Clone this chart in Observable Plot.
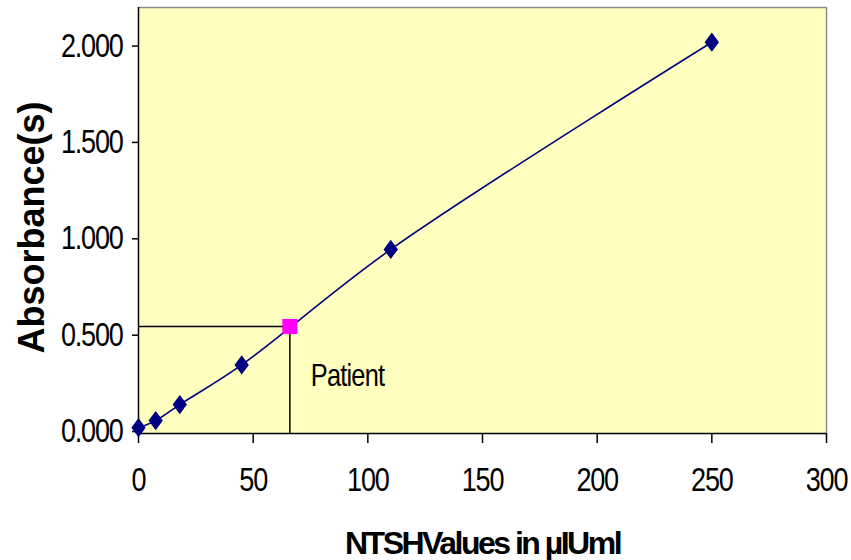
<!DOCTYPE html>
<html><head><meta charset="utf-8">
<script src="https://cdn.jsdelivr.net/npm/d3@7"></script>
<script src="https://cdn.jsdelivr.net/npm/@observablehq/plot@0.6"></script>
<style>
body{margin:0;background:#fff;}
#chart svg{display:block;}
</style></head><body><div id="chart"></div>
<script>
const standardConc = [0, 7.5, 18, 45, 110, 250];
const standardAbs = [0.02, 0.057, 0.14, 0.346, 0.945, 2.02];
const patientConc = [66];
const patientAbs = [0.545];
const patientLabel = "Patient";
const xTicks = [0, 50, 100, 150, 200, 250, 300];
const yTicks = [0, 0.5, 1, 1.5, 2];
const yTickLabels = ["0.000", "0.500", "1.000", "1.500", "2.000"];
const xDomain = [0, 300];
const yDomain = [-0.01, 2.2];
const xTitle = "NTSHValues in µIUml";
const yTitle = "Absorbance(s)";

const standards = standardConc.map((c, i) => ({conc: c, abs: standardAbs[i]}));
const patient = patientConc.map((c, i) => ({conc: c, abs: patientAbs[i], label: patientLabel}));

const diamond = {draw(ctx, size) {
  const r = Math.sqrt(size / Math.PI);
  const h = 1.6 * r, w = 1.2 * r;
  ctx.moveTo(0, -h); ctx.lineTo(w, 0); ctx.lineTo(0, h); ctx.lineTo(-w, 0); ctx.closePath();
}};

const sans = "'Liberation Sans',Arial,sans-serif";

const chart = Plot.plot({
  width: 851, height: 560,
  marginLeft: 138, marginRight: 25, marginTop: 7, marginBottom: 127,
  style: {fontFamily: sans, background: "#fff", color: "#000", overflow: "visible"},
  x: {domain: xDomain},
  y: {domain: yDomain},
  marks: [
    Plot.frame({fill: "#FFFFC0", stroke: "none"}),
    Plot.ruleX([xDomain[1]], {stroke: "#8c8c8c", strokeWidth: 1.5}),
    Plot.ruleY([yDomain[1]], {stroke: "#8c8c8c", strokeWidth: 1.5}),
    Plot.ruleX([xDomain[0]], {stroke: "#000", strokeWidth: 1.5}),
    Plot.ruleY([yDomain[0]], {stroke: "#000", strokeWidth: 1.5}),
    Plot.axisX({ticks: xTicks, tickSize: 10, tickPadding: 24, fontSize: 33, label: null, tickFormat: d => String(d), strokeWidth: 1.5}),
    Plot.axisY({ticks: yTicks, tickSize: 6, tickPadding: 10, fontSize: 33, label: null, tickFormat: d => yTickLabels[yTicks.indexOf(d)], strokeWidth: 1.5}),
    Plot.ruleY(patient, {y: "abs", x1: xDomain[0], x2: "conc", stroke: "#000", strokeWidth: 1.5}),
    Plot.ruleX(patient, {x: "conc", y1: yDomain[0], y2: "abs", stroke: "#000", strokeWidth: 1.5}),
    Plot.line(standards, {x: "conc", y: "abs", curve: "catmull-rom", stroke: "#000080", strokeWidth: 1.6}),
    Plot.dot(standards, {x: "conc", y: "abs", symbol: diamond, r: 6, fill: "#000080", stroke: null}),
    Plot.dot(patient, {x: "conc", y: "abs", symbol: "square", r: 8.5, fill: "#FF00FF", stroke: null}),
    Plot.text(patient, {x: "conc", y: "abs", text: "label", dx: 21, dy: 59, textAnchor: "start", lineAnchor: "bottom", fontSize: 31, fill: "#000"}),
    Plot.text([xTitle], {frameAnchor: "bottom", textAnchor: "middle", dy: 120, lineAnchor: "bottom", fontSize: 32, fontWeight: "bold", fill: "#000"}),
    Plot.text([yTitle], {frameAnchor: "left", textAnchor: "middle", dx: -95, dy: 7, rotate: -90, lineAnchor: "bottom", fontSize: 36, fontWeight: "bold", fill: "#000"})
  ]
});
document.getElementById("chart").append(chart);
const condensed = new Set([...xTicks.map(String), ...yTickLabels, patientLabel]);
d3.select(chart).selectAll("text").each(function() {
  const t = this.textContent;
  if (t === xTitle) { this.style.letterSpacing = "-2.5px"; return; }
  if (condensed.has(t)) {
    const tr = this.getAttribute("transform") || "";
    this.setAttribute("transform", tr + " scale(0.82,1)");
    this.style.letterSpacing = t === patientLabel ? "-1px" : "-1.5px";
  }
});
</script></body></html>
